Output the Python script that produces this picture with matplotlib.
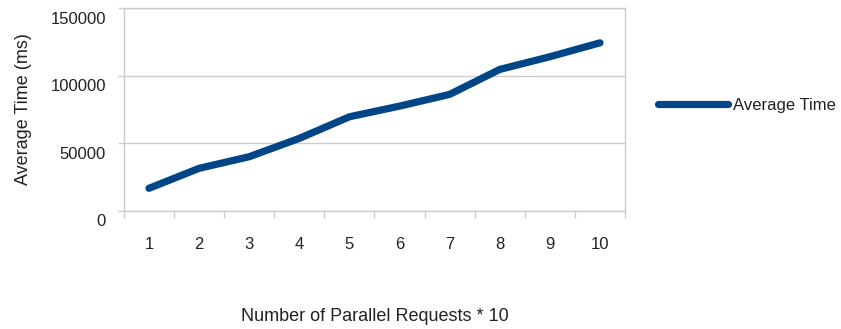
import numpy as np
import matplotlib.pyplot as plt
from matplotlib.ticker import FixedLocator
from matplotlib.transforms import ScaledTranslation

plt.rcParams['font.family'] = ['Liberation Sans', 'DejaVu Sans']

# data
requests = [1, 2, 3, 4, 5, 6, 7, 8, 9, 10]
avg_time = [16600, 31400, 40000, 53600, 69600, 77500, 86200, 104700, 114100, 124400]
series_name = 'Average Time'

blue = '#004586'
grid_c = '#cccccc'
txt = '#222222'

fig = plt.figure(figsize=(8.41, 3.29), dpi=100)
ax = fig.add_axes([0.1474, 0.3596, 0.5958, 0.6152])

ax.plot(requests, avg_time, color=blue, lw=5.2, solid_capstyle='round',
        solid_joinstyle='round', label=series_name)

ax.set_xlim(0.5, 10.5)
ax.set_ylim(0, 150000)
ax.set_yticks([0, 50000, 100000, 150000])
ax.yaxis.grid(True, color=grid_c, lw=1)
ax.set_axisbelow(True)

ax.set_xticks(requests)
ax.set_xticklabels([str(r) for r in requests])
ax.xaxis.set_minor_locator(FixedLocator(np.arange(0.5, 11, 1)))
ax.tick_params(axis='x', which='major', length=0, pad=19, labelsize=12, labelcolor=txt)
ax.tick_params(axis='x', which='minor', length=5, color=grid_c, width=1)
ax.tick_params(axis='y', length=4, color=grid_c, width=1, pad=9, labelsize=12, labelcolor=txt)

# y labels sit a bit below their gridlines in the original
shift = ScaledTranslation(0, -0.095, fig.dpi_scale_trans)
for lab in ax.get_yticklabels():
    lab.set_transform(lab.get_transform() + shift)

for s in ax.spines.values():
    s.set_color(grid_c)
    s.set_linewidth(1)

ax.set_xlabel('Number of Parallel Requests * 10', fontsize=13, color=txt, labelpad=40)
ax.set_ylabel('Average Time (ms)', fontsize=13, color=txt, labelpad=13)

fig.legend(loc='center left', bbox_to_anchor=(0.764, 0.68), frameon=False,
           handlelength=4.25, handletextpad=0.3, fontsize=12, labelcolor=txt)

fig.savefig('out.png', dpi=100)
